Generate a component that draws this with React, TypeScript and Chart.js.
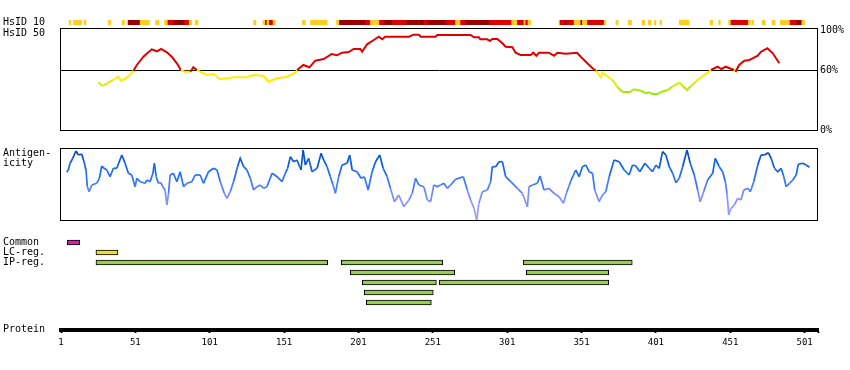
import React, { useEffect, useRef } from 'react';
import { Chart, registerables } from 'chart.js';
Chart.register(...registerables);

// ---------- data ----------
const X_MIN = 1;
const X_MAX = 510;
const axisTicks = [1, 51, 101, 151, 201, 251, 301, 351, 401, 451, 501];
const pctTicks = [0, 60, 100];

// HsID 10 strip: segments (residue start/end) and level (1 yellow, 2 red, 3 dark red)
const hs10Start = [6.4, 9.3, 16.5, 32.9, 42.1, 45.4, 46.3, 54.2, 64.5, 70.6, 72.9, 76.6, 83.8, 87.2, 91.2, 130.5, 136.8, 138.4, 139.5, 141.1, 143.6, 163.3, 168.7, 186.2, 188.2, 205.7, 209.1, 215.1, 218.7, 223.9, 233.3, 245, 247.3, 260.1, 266.3, 269.7, 273.1, 289.2, 304, 307.9, 312.3, 313.5, 315, 335.9, 336.6, 339.7, 341.1, 346, 350.5, 351.6, 355, 366.2, 374.1, 382.3, 391.6, 395.8, 399.9, 403.7, 416.7, 437.4, 443.2, 449.9, 451.5, 463.2, 465.4, 472.4, 479.1, 484.5, 491.2, 495.7, 499.1];
const hs10End = [7.7, 14.9, 17.8, 34.5, 43.6, 46.3, 54.2, 60.5, 66.8, 72.9, 76.6, 83.8, 87.2, 89, 93.1, 132.1, 138.4, 139.5, 141.1, 143.6, 145.1, 165.3, 179.9, 188.2, 205.7, 209.1, 215.1, 218.7, 223.9, 233.3, 245, 247.3, 260.1, 266.3, 269.7, 273.1, 289.2, 304, 307.9, 312.3, 313.5, 315, 316.8, 336.6, 339.7, 341.1, 346, 350.5, 351.6, 355, 366.2, 367.3, 375.6, 384.6, 393.6, 397.8, 401, 404.8, 423.4, 439.2, 444.3, 451.5, 463.2, 464.5, 466.8, 474.4, 481.1, 491.2, 495.7, 499.1, 500.9];
const hs10Level = [1, 1, 1, 1, 1, 1, 3, 1, 1, 1, 2, 3, 2, 1, 1, 1, 1, 2, 1, 2, 1, 1, 1, 1, 3, 2, 1, 2, 3, 2, 3, 2, 3, 2, 1, 2, 3, 2, 1, 2, 1, 2, 1, 1, 2, 3, 2, 1, 3, 1, 2, 1, 1, 1, 1, 1, 1, 1, 1, 1, 1, 1, 2, 1, 1, 1, 1, 1, 2, 3, 1];

// HsID 50 (%)
const hs50Res = [26.1, 29, 31.8, 36, 39.6, 41, 44, 47.5, 49.7, 52, 56.4, 62, 65.4, 68.3, 72.2, 75.5, 78.9, 81.6, 84, 88, 90, 92.4, 95.7, 99, 103.6, 108, 117, 126, 130.5, 137, 140.6, 146, 153, 158.6, 159.7, 164, 168, 172, 177.6, 183, 186.6, 190, 194.5, 197.8, 202.3, 203.5, 206.8, 211.3, 214.7, 217, 219, 235, 238, 241.6, 243, 252.8, 254, 276.4, 278.7, 282, 283, 287.7, 289.4, 291, 294.4, 297.8, 300, 304.5, 306.7, 310, 316.8, 318.6, 320.6, 322.4, 329, 332.5, 334.8, 340.4, 348, 350.5, 353.9, 358.4, 360.6, 361.7, 364, 365, 368.5, 371.8, 375, 378.6, 384, 386, 391, 394, 396.5, 398.8, 402, 404.4, 409, 412, 417, 419, 422, 424.6, 429, 432.4, 435.8, 438, 442.5, 445, 448, 451, 453.7, 454.5, 457, 460.5, 463.8, 466, 469.5, 471.7, 476, 479.6, 484];
const hs50Val = [47.7, 44, 46.7, 50, 53.3, 49.3, 51, 55, 59.3, 65, 73.3, 80.7, 78.7, 81, 77.7, 73.3, 66.7, 60, 58.3, 58.3, 62.7, 60, 57.3, 55, 56, 50.7, 52.7, 52.7, 55, 54.3, 48.3, 51.7, 53.3, 57.3, 60, 65, 62.7, 69.3, 71, 76, 74.7, 77.3, 78, 81, 81, 78.3, 85.7, 90, 93.3, 90.7, 93.3, 93.3, 95.3, 95.3, 93.3, 93.3, 95, 95, 92.7, 92.7, 90.7, 90.7, 89, 91, 91, 86.7, 83.3, 82.7, 77.3, 75, 75, 77.3, 74.3, 77.3, 77.3, 74.3, 77.3, 76.3, 77.3, 73.3, 68.3, 61.7, 59.3, 57.3, 52.7, 57.7, 53.3, 50, 43.3, 38, 38, 40.7, 39.3, 36.7, 37.7, 36, 36, 38, 40, 43.3, 47.3, 44, 40, 44, 50, 54, 57.3, 60, 63.3, 61, 63.3, 61.5, 60, 58, 65, 69.3, 70, 71.7, 74.3, 78.3, 81.7, 76.7, 66.7];

// Antigenicity
const antRes = [4.8, 5.9, 7.1, 8.9, 11.1, 12.7, 14.9, 16.5, 17.8, 18.7, 19.9, 21.7, 25, 26.8, 28.4, 30, 31.8, 34, 36.2, 38.5, 41.9, 44.1, 46.3, 48.6, 50.8, 52, 54.2, 57.6, 58.7, 60.9, 62.8, 63.8, 65, 66.5, 68.1, 69.5, 71, 72.2, 73.3, 74.4, 76.6, 78.9, 81.1, 83.4, 85.6, 89, 91.2, 94.6, 96.8, 100.2, 103.6, 105.9, 108.1, 110.8, 112.6, 114.8, 117, 119.7, 121.5, 123.8, 126, 128.3, 130.5, 132.8, 135, 137.2, 139.5, 142.9, 146.3, 149.6, 151.8, 153.4, 155.2, 157.4, 159.7, 161.5, 162.4, 163.8, 165.3, 167.5, 169.8, 173.2, 175.9, 177.6, 179.9, 182.1, 183.9, 185.5, 187.7, 190, 193.4, 195.1, 196.8, 200.1, 202.8, 205, 207.5, 210.2, 212.5, 215.3, 217.6, 220.3, 222.5, 225.2, 228.1, 231.5, 234.9, 237.2, 239.4, 241.6, 245, 247.3, 249.5, 251.7, 254, 256.2, 258.5, 260.7, 263, 266.3, 268.5, 271.5, 274.2, 276.4, 278.7, 280.5, 282, 284.3, 287.7, 289.9, 291, 293.3, 295.5, 297.8, 300, 303.4, 307.9, 311.2, 314.6, 315.7, 318, 321.3, 323.1, 325.8, 329.2, 332.5, 335.9, 338.8, 341.1, 343.8, 347.1, 349.4, 351.6, 353.9, 356.1, 358.4, 359.9, 362.8, 365.1, 367.3, 369.6, 372.9, 376.3, 379.7, 383, 385.3, 387.5, 390.2, 393.6, 396.5, 398.8, 401, 403.2, 405.5, 407.7, 410, 412.3, 414.5, 416.7, 419, 421.9, 424.1, 426.8, 429.1, 430.8, 433.1, 435.8, 439.2, 440.9, 443.6, 445.9, 447.7, 448.8, 450, 451.5, 453.7, 456, 458.2, 460.1, 462.8, 464.5, 466.8, 469.5, 471.7, 474, 476.6, 478.5, 480.7, 483, 485.2, 487, 488.6, 490.8, 493.1, 495.3, 496.8, 499.8, 502, 504.3];
const antVal = [47.7, 50, 56.7, 61.7, 69, 65, 66, 58.3, 50, 33.3, 28.3, 35, 36.7, 41.7, 54, 51.7, 50, 43.3, 51.7, 51.7, 65, 56.7, 46.7, 45, 33.3, 41.7, 38.3, 36.7, 40, 38.3, 46.7, 56.7, 43.3, 36.7, 37.3, 33.3, 30, 15, 26.7, 45, 46.7, 38.3, 48.3, 33.3, 36.7, 38.3, 45, 45, 36.7, 48.3, 51.7, 50, 38.3, 26.7, 21.7, 28.3, 38.3, 53.3, 61.7, 53.3, 50, 41.7, 30, 33.3, 35, 31.7, 33.3, 46.7, 43.3, 38.3, 46.7, 51.7, 63.3, 58.3, 60, 53.3, 50, 70, 55, 61.7, 48.3, 51.7, 66.7, 60, 53.3, 43.3, 35, 26.7, 43.3, 55, 56.7, 65, 50, 48.3, 41.7, 43.3, 30, 48.3, 58.3, 65, 51.7, 43.3, 31.7, 18.3, 25, 13.3, 20, 26.7, 41.7, 35, 33.3, 20, 18.3, 35, 33.3, 35, 36.7, 31.7, 35, 40.7, 41.7, 43.3, 30, 20, 11.7, 0, 16.7, 28.3, 30, 38.3, 53.3, 53.3, 58.3, 58.3, 43.3, 38.3, 31.7, 26.7, 13.3, 33.3, 35, 36.7, 44, 30, 31.7, 26.7, 23.3, 16.7, 28, 39, 50, 43.3, 53.3, 55, 48.3, 46.7, 30, 18.3, 25, 28.3, 43.3, 60, 58.3, 50, 45, 55, 54, 48.3, 56.7, 51.7, 48.3, 55, 51.7, 68.3, 65, 53.3, 46.7, 37.3, 41.7, 53.3, 70, 56.7, 45, 30, 18.3, 28.3, 40, 46.7, 61.7, 53.3, 48.3, 38.3, 26.7, 5, 11.7, 15, 21.7, 20, 30, 31.7, 28.3, 38.3, 55, 65, 65, 67.3, 61.7, 51.7, 48.3, 51.7, 43.3, 33.3, 36.7, 40, 45, 56, 56.7, 55, 52.7];

// Region bars
const rowLabels = ['Common', 'LC-reg.', 'IP-reg.'];
const commonStart = [5.2];
const commonEnd = [13.6];
const lcStart = [24.5];
const lcEnd = [39.3];
const ipStart = [24.5, 189.5, 311.9, 195.5, 313.9, 203.6, 255.4, 204.9, 206.3];
const ipEnd = [180.3, 257.7, 385.1, 265.7, 369.3, 253.4, 369.3, 251.3, 250];
const ipRow = [2, 2, 2, 3, 3, 4, 4, 5, 6];

// ---------- styles ----------
const FAMILY = '"DejaVu Sans Mono", monospace';
const STRIP_COLORS = ['#ffffff', '#ffcc22', '#dd0000', '#990000'];
const COMMON_COLOR = '#cc22aa';
const LC_COLOR = '#eedd33';
const IP_COLOR = '#99cc55';

function hsColor(v: number): string {
  if (v >= 60) return '#e00000';
  const h = Math.min(82, 56 + Math.max(0, 50 - v) * 2);
  const l = v >= 50 ? 50 : 46;
  return `hsl(${h}, 100%, ${l}%)`;
}

const antStops: [number, number[]][] = [
  [0, [176, 162, 255]],
  [25, [118, 140, 255]],
  [40, [45, 115, 250]],
  [55, [15, 100, 230]],
  [70, [5, 62, 165]],
];
function antColor(v: number): string {
  if (v <= antStops[0][0]) return `rgb(${antStops[0][1].join(',')})`;
  for (let i = 1; i < antStops.length; i++) {
    if (v <= antStops[i][0]) {
      const [a, ca] = antStops[i - 1];
      const [b, cb] = antStops[i];
      const t = (v - a) / (b - a);
      const c = ca.map((x, k) => Math.round(x + (cb[k] - x) * t));
      return `rgb(${c.join(',')})`;
    }
  }
  return `rgb(${antStops[antStops.length - 1][1].join(',')})`;
}

function framePlugin() {
  return {
    id: 'frame',
    beforeDatasetsDraw(chart: any) {
      const { left, top, right, bottom } = chart.chartArea;
      const ctx = chart.ctx;
      ctx.save();
      ctx.strokeStyle = '#000';
      ctx.lineWidth = 1;
      ctx.strokeRect(left - 0.5, top + 0.5, right - left, bottom - top);
      ctx.restore();
    },
  };
}

function textPlugin(items: { text: string; dy: number; from: 'top' | 'bottom' }[]) {
  return {
    id: 'sideText',
    afterDraw(chart: any) {
      const ctx = chart.ctx;
      ctx.save();
      ctx.fillStyle = '#000';
      ctx.font = `10px ${FAMILY}`;
      ctx.textAlign = 'left';
      ctx.textBaseline = 'middle';
      items.forEach((it) => {
        const base = it.from === 'top' ? chart.chartArea.top : chart.chartArea.bottom;
        ctx.fillText(it.text, 3, base + it.dy);
      });
      ctx.restore();
    },
  };
}

function baseOptions(padding: any, scales: any, extra: any = {}) {
  return {
    responsive: false,
    animation: false,
    devicePixelRatio: 1,
    events: [],
    layout: { padding },
    scales,
    plugins: { legend: { display: false }, tooltip: { enabled: false } },
    ...extra,
  };
}

const hiddenX = { type: 'linear', min: X_MIN, max: X_MAX, display: false };

export default function App() {
  const c1 = useRef<HTMLCanvasElement>(null);
  const c2 = useRef<HTMLCanvasElement>(null);
  const c3 = useRef<HTMLCanvasElement>(null);
  const c4 = useRef<HTMLCanvasElement>(null);
  const c5 = useRef<HTMLCanvasElement>(null);

  useEffect(() => {
    document.body.style.margin = '0';
    const charts: Chart[] = [];

    // HsID 10 strip
    charts.push(
      new Chart(c1.current!, {
        type: 'bar',
        data: {
          datasets: [
            {
              data: hs10Start.map((s, i) => ({ x: [s, hs10End[i]], y: 0 })) as any,
              backgroundColor: hs10Level.map((l) => STRIP_COLORS[l]),
              borderWidth: 0,
              barThickness: 5,
            },
          ],
        },
        options: baseOptions(
          { left: 3, right: 32, top: 20, bottom: 345 },
          {
            x: hiddenX,
            y: {
              type: 'linear',
              min: -0.5,
              max: 0.5,
              offset: false,
              afterBuildTicks: (s: any) => { s.ticks = [{ value: 0 }]; },
              afterFit: (s: any) => { s.width = 58; },
              ticks: { callback: () => 'HsID 10', crossAlign: 'far', color: '#000', font: { family: FAMILY, size: 10 } },
              grid: { display: false, offset: false },
              border: { display: false },
            },
          },
          { indexAxis: 'y' }
        ) as any,
      })
    );

    // HsID 50 line
    charts.push(
      new Chart(c2.current!, {
        type: 'line',
        data: {
          datasets: [
            {
              data: hs50Res.map((r, i) => ({ x: r, y: hs50Val[i] })),
              borderWidth: 2,
              pointRadius: 0,
              tension: 0,
              borderColor: '#e00000',
              segment: {
                borderColor: (ctx: any) => hsColor((ctx.p0.parsed.y + ctx.p1.parsed.y) / 2),
              },
            } as any,
          ],
        },
        options: baseOptions(
          { left: 61, right: 0, top: 28, bottom: 240 },
          {
            x: hiddenX,
            y: {
              type: 'linear',
              position: 'right',
              min: 0,
              max: 102,
              afterBuildTicks: (s: any) => { s.ticks = pctTicks.map((v) => ({ value: v })); },
              afterFit: (s: any) => { s.width = 32; },
              ticks: { callback: (v: any) => v + '%', color: '#000', padding: 2, font: { family: FAMILY, size: 10 } },
              grid: {
                drawTicks: false,
                lineWidth: 1,
                color: (ctx: any) => (ctx.tick && ctx.tick.value === 60 ? '#000' : 'rgba(0,0,0,0)'),
              },
              border: { display: false },
            },
          }
        ) as any,
        plugins: [framePlugin(), textPlugin([{ text: 'HsID 50', dy: 5, from: 'top' }])],
      })
    );

    // Antigenicity line
    charts.push(
      new Chart(c3.current!, {
        type: 'line',
        data: {
          datasets: [
            {
              data: antRes.map((r, i) => ({ x: r, y: antVal[i] })),
              borderWidth: 1.7,
              pointRadius: 0,
              tension: 0,
              borderColor: '#1166ee',
              segment: {
                borderColor: (ctx: any) => antColor((ctx.p0.parsed.y + ctx.p1.parsed.y) / 2),
              },
            } as any,
          ],
        },
        options: baseOptions(
          { left: 61, right: 32, top: 148, bottom: 150 },
          {
            x: hiddenX,
            y: { type: 'linear', min: 0, max: 72, display: false },
          }
        ) as any,
        plugins: [
          framePlugin(),
          textPlugin([
            { text: 'Antigen-', dy: 5, from: 'top' },
            { text: 'icity', dy: 15, from: 'top' },
          ]),
        ],
      })
    );

    // Region bars
    const barData: any[] = [];
    const barColors: string[] = [];
    commonStart.forEach((s, i) => { barData.push({ x: [s, commonEnd[i]], y: 0 }); barColors.push(COMMON_COLOR); });
    lcStart.forEach((s, i) => { barData.push({ x: [s, lcEnd[i]], y: 1 }); barColors.push(LC_COLOR); });
    ipStart.forEach((s, i) => { barData.push({ x: [s, ipEnd[i]], y: ipRow[i] }); barColors.push(IP_COLOR); });
    charts.push(
      new Chart(c4.current!, {
        type: 'bar',
        data: {
          datasets: [
            {
              data: barData,
              backgroundColor: barColors,
              borderColor: '#000',
              borderWidth: 1,
              borderSkipped: false,
              barThickness: 5,
            } as any,
          ],
        },
        options: baseOptions(
          { left: 3, right: 32, top: 237.5, bottom: 62.5 },
          {
            x: hiddenX,
            y: {
              type: 'linear',
              min: -0.5,
              max: 6.5,
              reverse: true,
              offset: false,
              afterBuildTicks: (s: any) => { s.ticks = rowLabels.map((_, i) => ({ value: i })); },
              afterFit: (s: any) => { s.width = 58; },
              ticks: { callback: (v: any) => rowLabels[v] ?? '', crossAlign: 'far', color: '#000', font: { family: FAMILY, size: 10 } },
              grid: { display: false, offset: false },
              border: { display: false },
            },
          },
          { indexAxis: 'y' }
        ) as any,
      })
    );

    // Protein axis
    charts.push(
      new Chart(c5.current!, {
        type: 'line',
        data: { datasets: [{ data: [] }] },
        options: baseOptions(
          { left: 61, right: 32, top: 300, bottom: 0 },
          {
            x: {
              type: 'linear',
              min: X_MIN,
              max: X_MAX,
              position: 'bottom',
              afterBuildTicks: (s: any) => { s.ticks = [...axisTicks, X_MAX].map((v) => ({ value: v })); },
              afterFit: (s: any) => { s.height = 40; },
              ticks: {
                autoSkip: false,
                maxRotation: 0,
                padding: 4,
                color: '#000',
                font: { family: FAMILY, size: 9 },
                callback: (v: any) => (axisTicks.includes(v) ? String(v) : ''),
              },
              grid: { drawOnChartArea: false, drawTicks: true, tickLength: 3, tickWidth: 2, tickColor: '#000' },
              border: { display: true, color: '#000', width: 4 },
            },
            y: { display: false },
          }
        ) as any,
        plugins: [textPlugin([{ text: 'Protein', dy: -1, from: 'bottom' }])],
      })
    );

    return () => charts.forEach((c) => c.destroy());
  }, []);

  const cs: React.CSSProperties = { position: 'absolute', left: 0, top: 0 };
  return (
    <div style={{ position: 'absolute', left: 0, top: 0, width: 850, height: 370, background: '#fff' }}>
      <canvas ref={c1} width={850} height={370} style={cs} />
      <canvas ref={c2} width={850} height={370} style={cs} />
      <canvas ref={c3} width={850} height={370} style={cs} />
      <canvas ref={c4} width={850} height={370} style={cs} />
      <canvas ref={c5} width={850} height={370} style={cs} />
    </div>
  );
}
